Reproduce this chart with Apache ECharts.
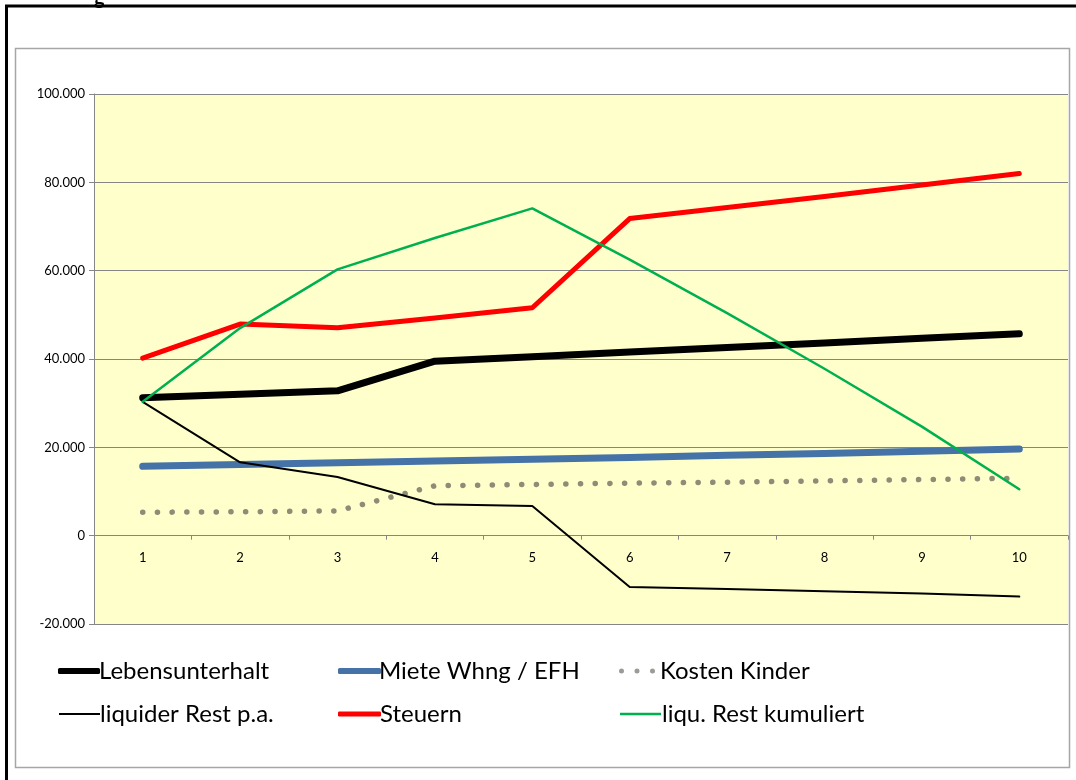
<!DOCTYPE html>
<html>
<head>
<meta charset="utf-8">
<script src="https://cdn.jsdelivr.net/npm/echarts@6/dist/echarts.min.js"></script>
<style>
html,body{margin:0;padding:0;background:#fff;}
#c{width:1076px;height:780px;}
</style>
</head>
<body>
<div id="c"></div>
<script>
var categories = ['1','2','3','4','5','6','7','8','9','10'];
var lebensunterhalt = [31200, 32000, 32800, 39500, 40500, 41600, 42600, 43600, 44700, 45700];
var miete = [15700, 16100, 16500, 16900, 17300, 17700, 18200, 18600, 19100, 19600];
var kinder = [5300, 5400, 5600, 11300, 11600, 11900, 12100, 12400, 12700, 13000];
var liquiderRest = [30300, 16600, 13300, 7100, 6700, -11600, -12100, -12600, -13100, -13800];
var steuern = [40200, 47900, 47100, 49300, 51600, 71800, 74300, 76800, 79400, 82000];
var kumuliert = [30300, 47000, 60300, 67400, 74100, 62500, 50400, 37800, 24700, 10500];

var FONT = 'Lato';
function fmt(v){
  var s = Math.abs(v).toString().replace(/\B(?=(\d{3})+(?!\d))/g, '.');
  return (v < 0 ? '-' : '') + s;
}
function mk(name, data, color, width, type, z){
  return {
    name: name, type: 'line', data: data, symbol: 'none', z: z,
    lineStyle: {color: color, width: width, type: type || 'solid', cap: 'round', join: 'round'},
    itemStyle: {color: color},
    emphasis: {disabled: true}, animation: false
  };
}
var DOTS = 'path://M0,2.5a2.5,2.5 0 1,0 5,0a2.5,2.5 0 1,0 -5,0Z M15.5,2.5a2.5,2.5 0 1,0 5,0a2.5,2.5 0 1,0 -5,0Z M31,2.5a2.5,2.5 0 1,0 5,0a2.5,2.5 0 1,0 -5,0Z';
function leg(name, left, cy, w, h, icon, color, pad){
  return {
    left: left, top: cy - 17, itemWidth: w, itemHeight: h, selectedMode: false,
    itemStyle: {borderWidth: 0}, lineStyle: {width: 0},
    textStyle: {fontFamily: FONT, fontSize: 24, color: '#000', padding: [0,0,0,pad]},
    data: [{name: name, icon: icon, itemStyle: {color: color, borderWidth: 0}}]
  };
}
var ROW1 = 671, ROW2 = 714;
var chart = echarts.init(document.getElementById('c'));
chart.setOption({
  animation: false,
  backgroundColor: '#fff',
  textStyle: {fontFamily: FONT},
  graphic: [
    {type: 'rect', shape: {x: 15.5, y: 48.5, width: 1054, height: 719}, style: {fill: null, stroke: '#A6A6A6', lineWidth: 1.5}, z: -1},
    {type: 'rect', shape: {x: 6.5, y: 6, width: 1080, height: 790}, style: {fill: null, stroke: '#000', lineWidth: 3}, z: 10},
    {type: 'text', left: 94, top: -12, style: {text: 'g', fontFamily: FONT, fontSize: 20, fontWeight: 'bold', fill: '#000'}}
  ],
  grid: {left: 94, top: 94, width: 974, height: 530, show: true, backgroundColor: '#FFFFCC', borderWidth: 0},
  legend: [
    leg('Lebensunterhalt', 53, ROW1, 42, 6, 'roundRect', '#000000', -6),
    leg('liquider Rest p.a.', 54, ROW2, 41, 2, 'rect', '#000000', -5),
    leg('Miete Whng / EFH', 333, ROW1, 43, 6, 'roundRect', '#4572A7', -7),
    leg('Steuern', 333, ROW2, 43, 5, 'roundRect', '#FF0000', -6),
    leg('Kosten Kinder', 614, ROW1, 36, 5, DOTS, '#9C9C96', 0),
    leg('liqu. Rest kumuliert', 615, ROW2, 41, 2.5, 'rect', '#00B050', -4)
  ],
  xAxis: {
    type: 'category', data: categories, boundaryGap: true,
    offset: -88.33,
    axisLine: {onZero: false, lineStyle: {color: '#868686', width: 1}},
    axisTick: {show: true, length: 4, lineStyle: {color: '#868686'}},
    axisLabel: {color: '#000', fontFamily: FONT, fontSize: 13, margin: 16},
    splitLine: {show: false}
  },
  yAxis: {
    type: 'value', min: -20000, max: 100000, interval: 20000,
    axisLine: {show: true, lineStyle: {color: '#868686', width: 1}},
    axisTick: {show: true, length: 5, lineStyle: {color: '#868686'}},
    axisLabel: {color: '#000', fontFamily: FONT, fontSize: 13, margin: 9, formatter: function(v){ return fmt(v); }},
    splitLine: {show: true, lineStyle: {color: '#868686', width: 1}}
  },
  series: [
    mk('Lebensunterhalt', lebensunterhalt, '#000000', 7, 'solid', 5),
    mk('Miete Whng / EFH', miete, '#4572A7', 7, 'solid', 4),
    mk('Kosten Kinder', kinder, '#8E8C77', 5.5, [0.1, 14.6], 3),
    mk('liquider Rest p.a.', liquiderRest, '#000000', 2, 'solid', 6),
    mk('Steuern', steuern, '#FF0000', 5, 'solid', 7),
    mk('liqu. Rest kumuliert', kumuliert, '#00B050', 2.5, 'solid', 8)
  ]
});
</script>
</body>
</html>
